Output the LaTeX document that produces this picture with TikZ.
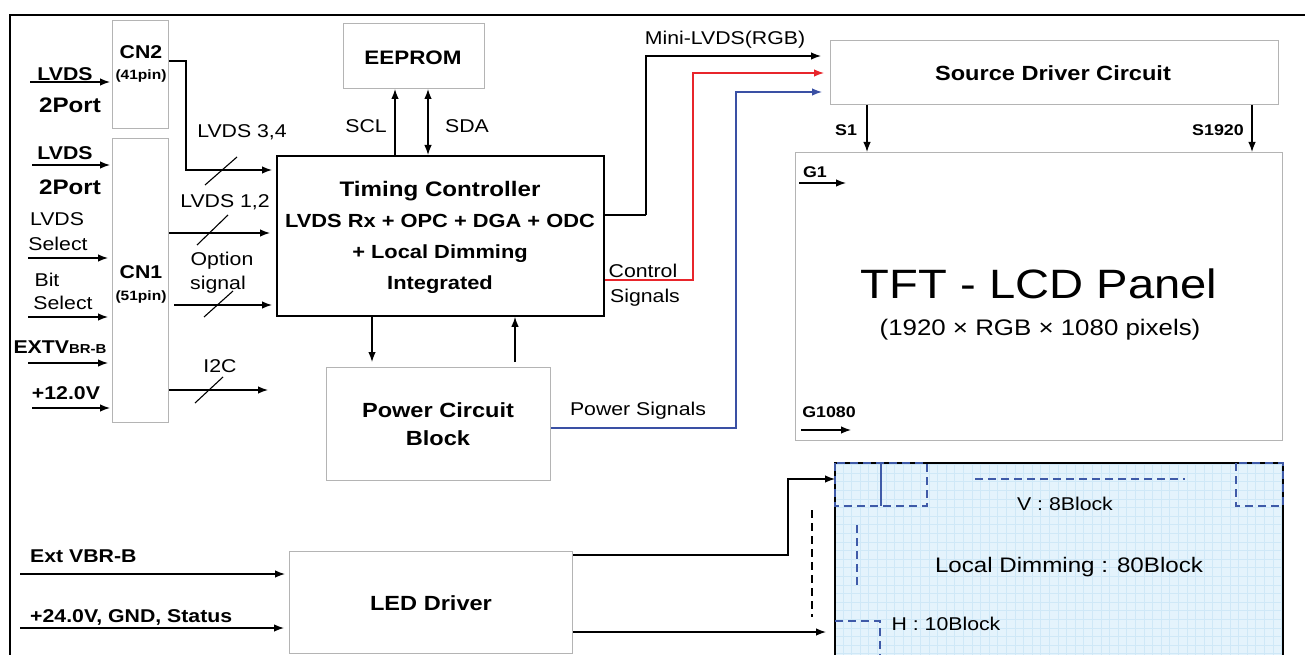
\documentclass[tikz,border=0pt]{standalone}
\usepackage{fontspec}
\setmainfont{Liberation Sans}[FakeStretch=1.15]
\usetikzlibrary{arrows.meta,calc}
\definecolor{boxgray}{HTML}{B4B4B4}
\definecolor{sigred}{HTML}{E8252B}
\definecolor{sigblue}{HTML}{3A50A4}
\definecolor{ldfill}{HTML}{E4F3FC}
\definecolor{ldgrid}{HTML}{CFE8F7}
\definecolor{ldblue}{HTML}{3F5AA8}
\tikzset{
  gbox/.style={draw=boxgray, line width=1pt, fill=white, anchor=north west, inner sep=0pt},
  arr/.style={-{Latex[length=10pt,width=7.5pt]}, line width=1.3pt},
  darr/.style={{Latex[length=10pt,width=7.5pt]}-{Latex[length=10pt,width=7.5pt]}, line width=1.3pt},
  lbl/.style={font=\fontsize{18.5}{22}\selectfont, inner sep=0pt, anchor=mid, yshift=-3pt},
  blbl/.style={font=\bfseries\fontsize{18.5}{22}\selectfont, inner sep=0pt, anchor=mid, yshift=-3pt},
  bigb/.style={font=\bfseries\fontsize{20.5}{28}\selectfont, inner sep=0pt, anchor=mid, yshift=-5pt},
  smb/.style={font=\bfseries\fontsize{13.5}{15}\selectfont, inner sep=0pt, anchor=mid, yshift=-2pt},
  slashline/.style={line width=1.1pt},
  ldash/.style={draw=ldblue, line width=1.4pt, dash pattern=on 8pt off 5pt},
}
\begin{document}
\begin{tikzpicture}[x=1pt,y=-1pt]
\useasboundingbox (0,0) rectangle (1305,655);
% outer frame
\draw[line width=2pt] (10,655) -- (10,15) -- (1305,15);

% boxes
\node[gbox, minimum width=56, minimum height=108] (cn2) at (112,20) {};
\node[gbox, minimum width=56, minimum height=284] (cn1) at (112,138) {};
\node[gbox, minimum width=141, minimum height=65] (ee) at (343,23) {};
\node[draw, line width=1.8pt, fill=white, anchor=north west, inner sep=0pt, minimum width=327, minimum height=160] (tc) at (276,155) {};
\node[gbox, minimum width=224, minimum height=113] (pcb) at (326,367) {};
\node[gbox, minimum width=448, minimum height=64] (sdc) at (830,40) {};
\node[gbox, minimum width=487, minimum height=288] (tft) at (795,152) {};
\node[gbox, minimum width=283, minimum height=102] (led) at (289,551) {};
\node[fill=ldfill, anchor=north west, inner sep=0pt, minimum width=448, minimum height=200] (ld) at (835,463) {};

% local dimming grid and border
\begin{scope}
\clip (835,463) rectangle (1283,655);
\draw[ldgrid, line width=0.5pt, step=8.6pt] (835,463) grid (1283,660);
\end{scope}
\draw[line width=2pt] (ld.south west) -- (ld.north west) -- (ld.north east) -- (ld.south east);
\draw[ldash] (835,463) rectangle (927,506);
\draw[ldblue, line width=1.6pt] (881,463) -- (881,506);
\draw[ldash] (975,479) -- (1185,479);
\draw[ldash] (1236,463) rectangle (1283,506);
\draw[ldash] (857,525) -- (857,585);
\draw[ldash] (835,621) -- (880,621) -- (880,660);

% texts in boxes
\node[blbl] (cn2t) at (141,53) {CN2};
\node[smb] (cn2p) at (141,75) {(41pin)};
\node[blbl] (cn1t) at (141,273) {CN1};
\node[smb] (cn1p) at (141,296) {(51pin)};
\node[bigb, font=\bfseries\fontsize{19.5}{24}\selectfont] (eet) at (413,57) {EEPROM};
\node[font=\bfseries\fontsize{19}{31}\selectfont, align=center, inner sep=0pt] (tct) at (440,237) {{\fontsize{21}{31}\selectfont Timing Controller}\\LVDS Rx + OPC + DGA + ODC\\+ Local Dimming\\Integrated};
\node[font=\bfseries\fontsize{20.5}{28}\selectfont, align=center, inner sep=0pt, anchor=center] (pcbt) at (438,424) {Power Circuit\\Block};
\node[bigb] (sdct) at (1053,73) {Source Driver Circuit};
\node[bigb] (ledt) at (431,603) {LED Driver};
\node[font=\fontsize{41}{48}\selectfont, inner sep=0pt, anchor=mid] (tftt) at (1039,296) {TFT - LCD Panel};
\node[font=\fontsize{22.5}{26}\selectfont, inner sep=0pt, anchor=mid] (tftp) at (1040,333) {(1920 × RGB × 1080 pixels)};
\node[lbl] (vb) at (1065,505) {V : 8Block};
\node[font=\fontsize{21}{24}\selectfont, inner sep=0pt, anchor=mid] (ldt) at (1069,570) {Local Dimming : 80Block};
\node[lbl] (hb) at (946,625) {H : 10Block};

% left inputs
\node[blbl] (l1a) at (65,75) {LVDS};
\node[blbl, font=\bfseries\fontsize{21}{24}\selectfont] (l1b) at (70,107) {2Port};
\node[blbl] (l2a) at (65,154) {LVDS};
\node[blbl, font=\bfseries\fontsize{21}{24}\selectfont] (l2b) at (70,189) {2Port};
\node[lbl] (ls1) at (57,220) {LVDS};
\node[lbl] (ls2) at (58,245) {Select};
\node[lbl] (bs1) at (47,281) {Bit};
\node[lbl] (bs2) at (63,304) {Select};
\node[blbl] (ext) at (60,348) {EXTV{\fontsize{13}{14}\selectfont BR-B}};
\node[blbl] (v12) at (66,394) {+12.0V};

\coordinate (i1) at (30,82);
\coordinate (i2) at (32,165);
\coordinate (i3) at (28,258);
\coordinate (i4) at (28,317);
\coordinate (i5) at (28,363);
\coordinate (i6) at (32,408);
\draw[arr, shorten >=2pt] (i1) -- (i1 -| cn2.west);
\draw[arr, shorten >=2pt] (i2) -- (i2 -| cn1.west);
\draw[arr, shorten >=4pt] (i3) -- (i3 -| cn1.west);
\draw[arr, shorten >=4pt] (i4) -- (i4 -| cn1.west);
\draw[arr, shorten >=4pt] (i5) -- (i5 -| cn1.west);
\draw[arr, shorten >=2pt] (i6) -- (i6 -| cn1.west);

% CN outputs
\draw[arr, shorten >=4pt] (cn2.east |- 0,61) -- (186,61) |- (tc.west |- 0,170);
\draw[slashline] (205,185) -- (237,157);
\node[lbl] (l34) at (242,132) {LVDS 3,4};
\draw[arr, shorten >=6pt] (cn1.east |- 0,233) -- (tc.west |- 0,233);
\draw[slashline] (197,245) -- (228,215);
\node[lbl] (l12) at (225,202) {LVDS 1,2};
\coordinate (o1) at (174,305);
\draw[arr, shorten >=4pt] (o1) -- (tc.west |- o1);
\draw[slashline] (204,317) -- (233,291);
\node[lbl] (opt1) at (222,260) {Option};
\node[lbl] (opt2) at (218,284) {signal};
\coordinate (i2ce) at (268,390);
\draw[arr] (cn1.east |- i2ce) -- (i2ce);
\draw[slashline] (195,403) -- (223,377);
\node[lbl] (i2c) at (220,367) {I2C};

% EEPROM links
\draw[arr] (tc.north -| 395,0) -- (ee.south -| 395,0);
\draw[darr] (ee.south -| 428,0) -- (tc.north -| 428,0);
\node[lbl] (scl) at (366,127) {SCL};
\node[lbl] (sda) at (467,127) {SDA};

% TC <-> PCB
\draw[arr, shorten >=5pt] (tc.south -| 372,0) -- (pcb.north -| 372,0);
\draw[arr, shorten <=5pt] (pcb.north -| 515,0) -- (tc.south -| 515,0);

% TC outputs
\draw[line width=2.6pt] (tc.east |- 0,215) -- (646,215);
\draw[arr, shorten >=9pt] (646,215) |- (sdc.west |- 0,56);
\node[lbl] (mini) at (725,39) {Mini-LVDS(RGB)};
\draw[arr, sigred, shorten >=6pt] (tc.east |- 0,280) -| (693,73) -- (sdc.west |- 0,73);
\node[lbl] (ctl1) at (643,272) {Control};
\node[lbl] (ctl2) at (645,297) {Signals};
\draw[arr, sigblue, shorten >=8pt] (pcb.east |- 0,428) -| (736,92) -- (sdc.west |- 0,92);
\node[lbl] (pws) at (638,410) {Power Signals};

% source driver to panel
\draw[arr] (sdc.south -| 867,0) -- (tft.north -| 867,0);
\draw[arr] (sdc.south -| 1252,0) -- (tft.north -| 1252,0);
\node[blbl, font=\bfseries\fontsize{15.5}{18}\selectfont] (s1) at (846,130) {S1};
\node[blbl, font=\bfseries\fontsize{15.5}{18}\selectfont] (s1920) at (1218,130) {S1920};
\node[blbl, font=\bfseries\fontsize{15.5}{18}\selectfont] (g1) at (815,172) {G1};
\coordinate (g1s) at (799,183);
\coordinate (g1e) at (846,183);
\draw[arr] (g1s) -- (g1e);
\node[blbl, font=\bfseries\fontsize{15.5}{18}\selectfont] (g1080) at (829,412) {G1080};
\coordinate (g2s) at (801,430);
\coordinate (g2e) at (851,430);
\draw[arr] (g2s) -- (g2e);

% LED driver
\node[blbl, anchor=base west, yshift=0pt] (evb) at (30,559) {Ext VBR-B};
\node[blbl, anchor=base west, yshift=0pt] (v24) at (30,619) {+24.0V, GND, Status};
\coordinate (e1) at (20,574);
\coordinate (e2) at (20,628);
\draw[arr, shorten >=4pt] (e1) -- (e1 -| led.west);
\draw[arr, shorten >=5pt] (e2) -- (e2 -| led.west);
\draw[arr] (led.east |- 0,555) -- (788,555) |- (ld.west |- 0,479);
\draw[arr, shorten >=9pt] (led.east |- 0,632) -- (ld.west |- 0,632);
\coordinate (dv1) at (812,510);
\coordinate (dv2) at (812,617);
\draw[line width=1.5pt, dash pattern=on 8pt off 5pt] (dv1) -- (dv2);
\end{tikzpicture}
\end{document}
